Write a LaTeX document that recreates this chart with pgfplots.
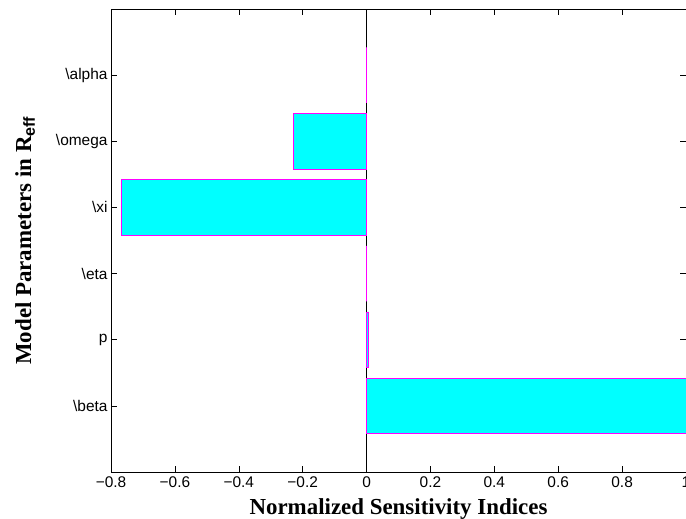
\documentclass[border=0pt]{standalone}
\usepackage{pgfplots}
\pgfplotsset{compat=1.18}
\usepackage{fontspec}
\setmainfont{Liberation Sans}
\newfontfamily\labelfont{Liberation Serif}

\definecolor{barfill}{RGB}{0,255,255}
\definecolor{baredge}{RGB}{255,0,255}

% Sensitivity indices of R_eff, one row per model parameter
\pgfplotstableread{
pos  value
1    1.000
2    0.007
3    0.000
4   -0.767
5   -0.229
6    0.000
}\sensitivity

\begin{document}
\begin{tikzpicture}
\useasboundingbox (0,0) rectangle (686bp,519bp);
\begin{axis}[
  at={(111bp,47bp)}, anchor=south west,
  scale only axis, width=575bp, height=463bp,
  xmin=-0.8, xmax=1, ymin=0, ymax=7,
  xtick={-0.8,-0.6,-0.4,-0.2,0,0.2,0.4,0.6,0.8,1},
  xticklabels={−0.8,−0.6,−0.4,−0.2,0,0.2,0.4,0.6,0.8,1},
  ytick={1,2,3,4,5,6},
  yticklabels={\textbackslash beta,p,\textbackslash eta,\textbackslash xi,\textbackslash omega,\textbackslash alpha},
  tick align=inside, major tick length=6bp,
  tick style={black, line width=0.5bp},
  axis line style={black, line width=0.6bp},
  ticklabel style={font=\fontsize{15.5}{18}\selectfont},
  xticklabel style={yshift=-1bp},
  xlabel={\labelfont\bfseries\fontsize{23}{27}\selectfont Normalized Sensitivity Indices},
  ylabel={\labelfont\bfseries\fontsize{23}{27}\selectfont Model Parameters in R$_{\mathbf{eff}}$},
  xlabel style={at={(axis description cs:0.5,0)}, anchor=base, yshift=-42bp},
  ylabel style={at={(axis description cs:-0.139,0.5)}, anchor=base},
  clip=false,
]
\addplot[black, line width=0.6bp, forget plot] coordinates {(0,0) (0,7)};
\addplot[xbar, bar width=0.84, bar shift=0pt, fill=barfill, draw=baredge, line width=0.8bp]
  table[x=value, y=pos] {\sensitivity};
\end{axis}
\end{tikzpicture}
\end{document}
